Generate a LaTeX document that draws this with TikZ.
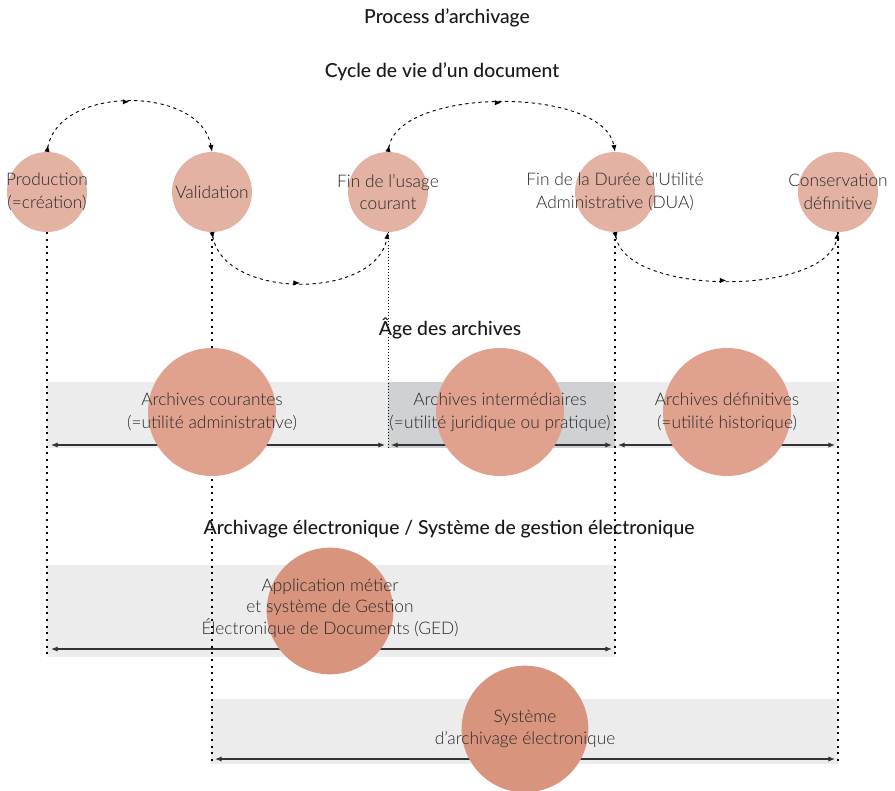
\documentclass[tikz,border=0pt]{standalone}
\usepackage{fontspec}
\setmainfont{Lato}
\newfontfamily\lightfont{Lato Light}
\newfontfamily\titlefont{Lato Medium}
\usetikzlibrary{arrows.meta,decorations.markings}
\definecolor{circtop}{RGB}{227,178,163}
\definecolor{circmid}{RGB}{224,162,143}
\definecolor{circbot}{RGB}{217,148,126}
\definecolor{bandlight}{RGB}{235,236,235}
\definecolor{banddark}{RGB}{208,209,211}
\definecolor{txt}{RGB}{40,40,40}
\tikzset{
    titre/.style = {font=\titlefont\fontsize{14.5}{17}\selectfont, text=black!90},
    libelle/.style = {font=\lightfont\fontsize{13}{17}\selectfont, text=txt, align=center},
    stage/.style = {circle, fill=circtop, minimum size=60pt, inner sep=0pt},
    agecircle/.style = {circle, fill=circmid, minimum size=96pt, inner sep=0pt},
    syscircle/.style = {circle, fill=circbot, minimum size=95pt, inner sep=0pt},
    jalon/.style = {line width=1.5pt, line cap=butt, dash pattern=on 1.5pt off 3.5pt},
    jalonfin/.style = {line width=0.7pt, line cap=butt, dash pattern=on 0.7pt off 1.6pt},
    cycle/.style = {line width=0.7pt, dash pattern=on 2pt off 3pt,
        {Latex[length=5pt,width=4pt,reversed]}-{Latex[length=5pt,width=4pt]},
        decoration={markings, mark=at position 0.5 with {\arrow{Latex[length=5pt,width=4pt]}}},
        postaction=decorate},
    duree/.style = {line width=0.9pt, draw=black!80,
        {Latex[length=5pt,width=4pt]}-{Latex[length=5pt,width=4pt]}}
}
\begin{document}
\begin{tikzpicture}[line cap=round,line join=round,x=0.75pt,y=-0.75pt]
    \useasboundingbox (0,0) rectangle (895,791);

    % titres
    \node[titre] (t-process) at (447,18) {Process d’archivage};
    \node[titre] (t-cycle) at (442,72) {Cycle de vie d’un document};
    \node[titre] (t-age) at (450,328) {Âge des archives};
    \node[titre] (t-elec) at (449,529) {Archivage électronique / Système de gestion électronique};

    % bandes
    \fill[bandlight] (47,382) rectangle (838,448);
    \fill[banddark] (388,382) rectangle (615,448);
    \fill[bandlight] (47,565) rectangle (615,657);
    \fill[bandlight] (211,699) rectangle (838,764);

    % etapes du cycle
    \node[stage] (prod) at (47,192) {};
    \node[stage] (valid) at (212,192) {};
    \node[stage] (finusage) at (388,192) {};
    \node[stage] (dua) at (615,192) {};
    \node[stage] (conserv) at (838,192) {};

    \coordinate (prod-b) at (47,657);
    \coordinate (valid-b) at (212,764);
    \coordinate (finusage-b) at (388,448);
    \coordinate (dua-b) at (615,657);
    \coordinate (conserv-b) at (838,764);

    \draw[jalon] (prod.south) -- (prod-b);
    \draw[jalon] (valid.south) -- (valid-b);
    \draw[jalonfin] (finusage.south) -- (finusage-b);
    \draw[jalon] (dua.south) -- (dua-b);
    \draw[jalon] (conserv.south) -- (conserv-b);

    \draw[cycle] (prod.north) to[out=80,in=100,looseness=1.05] (valid.north);
    \draw[cycle] (valid.south) to[out=-80,in=-100,looseness=1] (finusage.south);
    \draw[cycle] (finusage.north) to[out=80,in=100,looseness=0.75] (dua.north);
    \draw[cycle] (dua.south) to[out=-80,in=-100,looseness=0.75] (conserv.south);

    % durees
    \coordinate (c-g) at (51,445);
    \coordinate (c-d) at (385,445);
    \coordinate (i-g) at (391,445);
    \coordinate (i-d) at (612,445);
    \coordinate (h-g) at (618,445);
    \coordinate (h-d) at (835,445);
    \coordinate (ged-g) at (51,649);
    \coordinate (ged-d) at (612,649);
    \coordinate (sae-g) at (215,759);
    \coordinate (sae-d) at (835,759);

    \draw[duree] (c-g) -- (c-d);
    \draw[duree] (i-g) -- (i-d);
    \draw[duree] (h-g) -- (h-d);
    \draw[duree] (ged-g) -- (ged-d);
    \draw[duree] (sae-g) -- (sae-d);

    % ages et systemes
    \node[agecircle] (courantes) at (212,412) {};
    \node[agecircle] (interm) at (500,412) {};
    \node[agecircle] (definitives) at (727,412) {};
    \node[syscircle] (ged) at (330,611) {};
    \node[syscircle] (sae) at (525,729) {};

    % libelles
    \node[libelle] at (prod) {Production\\(=création)};
    \node[libelle] at (valid) {Validation};
    \node[libelle] at (finusage) {Fin de l’usage\\courant};
    \node[libelle] at (dua) {Fin de la Durée d'Utilité\\Administrative (DUA)};
    \node[libelle] at (conserv) {Conservation\\définitive};
    \node[libelle] at (212,412) {Archives courantes\\(=utilité administrative)};
    \node[libelle] at (500,412) {Archives intermédiaires\\(=utilité juridique ou pratique)};
    \node[libelle] at (727,412) {Archives définitives\\(=utilité historique)};
    \node[libelle, font=\lightfont\fontsize{13}{16}\selectfont] at (330,608) {Application métier\\et système de Gestion\\Électronique de Documents (GED)};
    \node[libelle] at (525,729) {Système\\d’archivage électronique};
\end{tikzpicture}
\end{document}
